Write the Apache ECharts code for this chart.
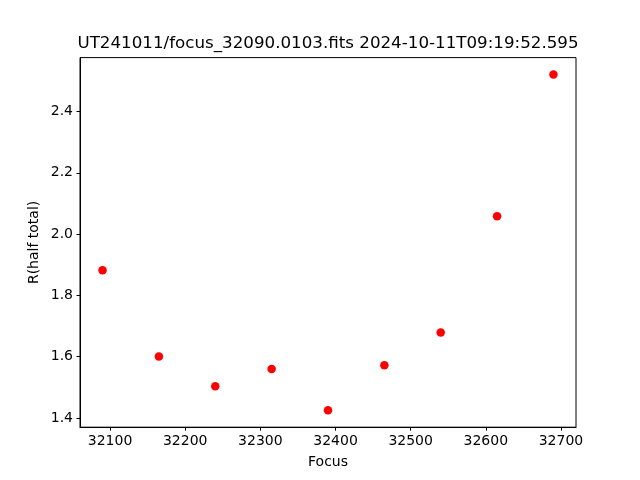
<!DOCTYPE html>
<html>
<head>
<meta charset="utf-8">
<script src="https://cdn.jsdelivr.net/npm/echarts@6/dist/echarts.min.js"></script>
<style>html,body{margin:0;padding:0;background:#fff}#c{width:640px;height:480px}</style>
</head>
<body>
<div id="c"></div>
<script>
const focusValues = [32090, 32165, 32240, 32315, 32390, 32465, 32540, 32615, 32690];
const rHalfTotal = [1.882, 1.601, 1.504, 1.560, 1.425, 1.572, 1.679, 2.058, 2.521];
const xTicks = [32100, 32200, 32300, 32400, 32500, 32600, 32700];
const yTicks = [1.4, 1.6, 1.8, 2.0, 2.2, 2.4];
const titleText = 'UT241011/focus_32090.0103.fits 2024-10-11T09:19:52.595';

const font = 'DejaVu Sans';
const chart = echarts.init(document.getElementById('c'), null, {renderer: 'canvas'});
chart.setOption({
  animation: false,
  backgroundColor: '#fff',
  textStyle: {fontFamily: font},
  graphic: [{
    type: 'text', x: 328, y: 44,
    style: {text: titleText, fontFamily: font, fontSize: 16.7, fill: '#000', align: 'center', verticalAlign: 'middle'}
  }],
  grid: {left: 80, right: 64, top: 57.6, bottom: 52.8, show: true, borderColor: '#000', borderWidth: 1, backgroundColor: 'transparent'},
  xAxis: {
    type: 'value', min: 32060, max: 32720,
    name: 'Focus', nameLocation: 'middle', nameGap: 28,
    nameTextStyle: {fontFamily: font, fontSize: 14, color: '#000'},
    axisLine: {show: true, lineStyle: {color: '#000', width: 1}},
    axisTick: {show: true, length: 3.5, lineStyle: {color: '#000'}, customValues: xTicks},
    axisLabel: {margin: 7, fontFamily: font, fontSize: 14, color: '#000', customValues: xTicks, formatter: v => String(v)},
    splitLine: {show: false}
  },
  yAxis: {
    type: 'value', min: 1.370, max: 2.576,
    name: 'R(half total)', nameLocation: 'middle', nameGap: 39, nameRotate: 90, nameMoveOverlap: false,
    nameTextStyle: {fontFamily: font, fontSize: 14, color: '#000'},
    axisLine: {show: true, lineStyle: {color: '#000', width: 1}},
    axisTick: {show: true, length: 3.5, lineStyle: {color: '#000'}, customValues: yTicks},
    axisLabel: {margin: 7, fontFamily: font, fontSize: 14, color: '#000', customValues: yTicks, formatter: v => v.toFixed(1)},
    splitLine: {show: false}
  },
  series: [{
    type: 'scatter',
    data: focusValues.map((x, i) => [x, rHalfTotal[i]]),
    symbol: 'circle', symbolSize: 8.5,
    itemStyle: {color: '#ff0000', opacity: 1}
  }]
});
</script>
</body>
</html>
